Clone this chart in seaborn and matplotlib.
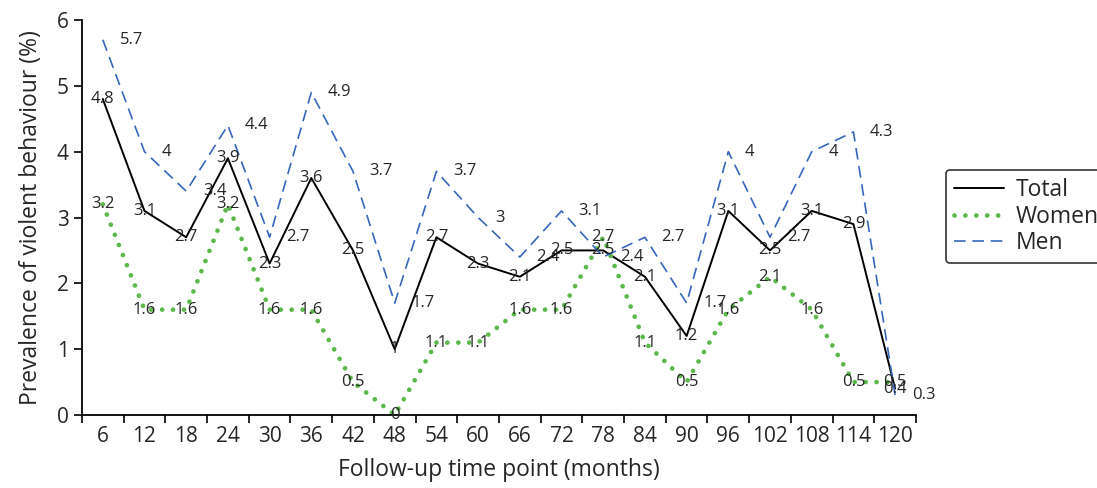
import matplotlib
matplotlib.use("Agg")
import matplotlib.pyplot as plt
import numpy as np
import pandas as pd
import seaborn as sns

months = ["6", "12", "18", "24", "30", "36", "42", "48", "54", "60",
          "66", "72", "78", "84", "90", "96", "102", "108", "114", "120"]
total = [4.8, 3.1, 2.7, 3.9, 2.3, 3.6, 2.5, 1, 2.7, 2.3,
         2.1, 2.5, 2.5, 2.1, 1.2, 3.1, 2.5, 3.1, 2.9, 0.4]
women = [3.2, 1.6, 1.6, 3.2, 1.6, 1.6, 0.5, 0, 1.1, 1.1,
         1.6, 1.6, 2.7, 1.1, 0.5, 1.6, 2.1, 1.6, 0.5, 0.5]
men = [5.7, 4, 3.4, 4.4, 2.7, 4.9, 3.7, 1.7, 3.7, 3,
       2.4, 3.1, 2.4, 2.7, 1.7, 4, 2.7, 4, 4.3, 0.3]

sns.set_style("white")
plt.rcParams["font.family"] = ["Open Sans", "DejaVu Sans"]

df = pd.DataFrame({"Month": months, "Total": total, "Women": women, "Men": men})
xpos = np.arange(len(months))

fig = plt.figure(figsize=(10.97, 4.88), dpi=100)
ax = fig.add_axes([0.0747, 0.1496, 0.7603, 0.8094])

sns.lineplot(x=xpos, y=df["Total"], ax=ax, color="black", linewidth=1.4, label="Total")
sns.lineplot(x=xpos, y=df["Women"], ax=ax, color="#5cb84a", linewidth=3.4,
             linestyle=(0, (0.01, 2.3)), dash_capstyle="round", label="Women")
sns.lineplot(x=xpos, y=df["Men"], ax=ax, color="#3767bd", linewidth=1.2,
             linestyle=(0, (7, 4)), label="Men")

# value labels
for i in xpos:
    ax.annotate(f"{total[i]:g}", (i, total[i]), ha="center", va="center", fontsize=12)
    ax.annotate(f"{women[i]:g}", (i, women[i]), ha="center", va="center", fontsize=12)
    ax.annotate(f"{men[i]:g}", (i, men[i]), xytext=(12, 0), textcoords="offset points",
                ha="left", va="center", fontsize=12)

ax.set_xlim(-0.5, len(months) - 0.5)
ax.set_ylim(0, 6)
ax.set_yticks(range(0, 7))
ax.set_xticks(xpos)
ax.set_xticklabels(months)
ax.set_xticks(np.arange(-0.5, len(months)), minor=True)
ax.tick_params(axis="x", which="major", length=0, labelsize=15, pad=8)
ax.tick_params(axis="x", which="minor", length=6, width=1.2, color="black", direction="out")
ax.tick_params(axis="y", length=6, width=1.2, color="black", direction="out", labelsize=15)
ax.xaxis.set_ticks_position("bottom")
ax.yaxis.set_ticks_position("left")

for side in ["top", "right"]:
    ax.spines[side].set_visible(False)
for side in ["left", "bottom"]:
    ax.spines[side].set_color("black")
    ax.spines[side].set_linewidth(1.3)

ax.set_xlabel("Follow-up time point (months)", fontsize=16.5, labelpad=8)
ax.set_ylabel("Prevalence of violent behaviour (%)", fontsize=16.5, labelpad=10)

leg = ax.legend(loc="upper left", bbox_to_anchor=(0.862, 0.652), bbox_transform=fig.transFigure,
                fontsize=16.5, frameon=True, fancybox=True, handlelength=2.2,
                borderpad=0.35, labelspacing=0.12, handletextpad=0.5, borderaxespad=0)
leg.get_frame().set_edgecolor("black")
leg.get_frame().set_linewidth(1.2)

fig.savefig("out.png", dpi=100)
